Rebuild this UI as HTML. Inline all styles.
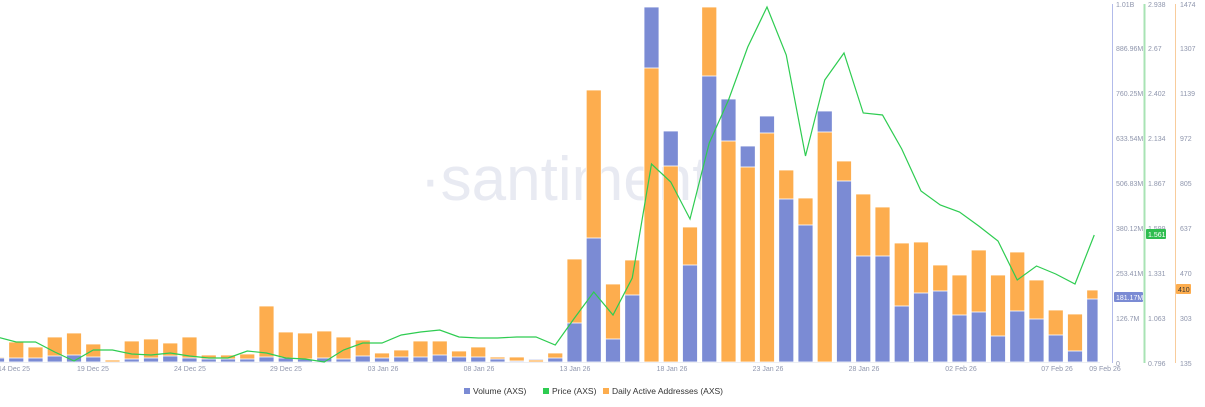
<!DOCTYPE html>
<html><head><meta charset="utf-8"><style>
html,body{margin:0;padding:0;background:#fff;width:1205px;height:407px;overflow:hidden}
svg{display:block;font-family:"Liberation Sans",sans-serif}
</style></head><body>
<svg id="c" width="1205" height="407" viewBox="0 0 1205 407">
<text x="420" y="200" font-size="62" fill="#e8eaf2" font-family="Liberation Sans,sans-serif">·santiment</text>
<g id="bars"></g>
<line x1="0" y1="362.5" x2="1100" y2="362.5" stroke="#eceef3" stroke-width="1"/>
<polyline id="price" fill="none" stroke="#2ecc51" stroke-width="1.2"/>
<line x1="1112.5" y1="4" x2="1112.5" y2="363" stroke="#b2bbea" stroke-width="1"/>
<line x1="1144.5" y1="4" x2="1144.5" y2="363" stroke="#a8e3b4" stroke-width="2"/>
<line x1="1175.5" y1="4" x2="1175.5" y2="363" stroke="#f8cc9c" stroke-width="1"/>
<g font-size="7" fill="#8f96ad">
<text x="1116" y="7">1.01B</text><text x="1148" y="7">2.938</text><text x="1180" y="7">1474</text>
<text x="1116" y="51">886.96M</text><text x="1148" y="51">2.67</text><text x="1180" y="51">1307</text>
<text x="1116" y="96">760.25M</text><text x="1148" y="96">2.402</text><text x="1180" y="96">1139</text>
<text x="1116" y="141">633.54M</text><text x="1148" y="141">2.134</text><text x="1180" y="141">972</text>
<text x="1116" y="186">506.83M</text><text x="1148" y="186">1.867</text><text x="1180" y="186">805</text>
<text x="1116" y="231">380.12M</text><text x="1148" y="231">1.599</text><text x="1180" y="231">637</text>
<text x="1116" y="276">253.41M</text><text x="1148" y="276">1.331</text><text x="1180" y="276">470</text>
<text x="1116" y="321">126.7M</text><text x="1148" y="321">1.063</text><text x="1180" y="321">303</text>
<text x="1116" y="366">0</text><text x="1148" y="366">0.796</text><text x="1180" y="366">135</text>
</g>
<rect x="1146" y="229" width="20" height="10" rx="1" fill="#2ebd4f"/>
<text x="1148" y="237" font-size="7" fill="#fff">1.561</text>
<rect x="1114" y="292" width="29" height="10" rx="1" fill="#7b8bd4"/>
<text x="1116" y="300" font-size="7" fill="#fff">181.17M</text>
<rect x="1176" y="284" width="15" height="10" rx="1" fill="#fdad4e"/>
<text x="1178" y="292" font-size="7" fill="#333">410</text>
<g font-size="7" fill="#8f96ad" text-anchor="middle">
<text x="14" y="371">14 Dec 25</text>
<text x="93" y="371">19 Dec 25</text>
<text x="190" y="371">24 Dec 25</text>
<text x="286" y="371">29 Dec 25</text>
<text x="383" y="371">03 Jan 26</text>
<text x="479" y="371">08 Jan 26</text>
<text x="575" y="371">13 Jan 26</text>
<text x="672" y="371">18 Jan 26</text>
<text x="768" y="371">23 Jan 26</text>
<text x="864" y="371">28 Jan 26</text>
<text x="961" y="371">02 Feb 26</text>
<text x="1057" y="371">07 Feb 26</text>
<text x="1105" y="371">09 Feb 26</text>
</g>
<g font-size="8.5" fill="#333">
<rect x="464" y="388" width="6" height="6" fill="#7b8bd4"/><text x="473" y="394">Volume (AXS)</text>
<rect x="543" y="388" width="6" height="6" fill="#2ecc51"/><text x="552" y="394">Price (AXS)</text>
<rect x="603" y="388" width="6" height="6" fill="#fdad4e"/><text x="612" y="394">Daily Active Addresses (AXS)</text>
</g>
</svg>
<script>
var d=[[357,358],[342,358],[347,358],[337,356],[333,355],[344,357],[360,362],[341,359],[339,358],[343,356],[337,358],[355,359],[355,359],[354,359],[306,357],[332,358],[333,359],[331,358],[337,359],[340,356],[353,358],[350,357],[341,357],[341,355],[351,357],[347,357],[357,359],[357,361],[360,359],[353,358],[259,323],[90,238],[284,339],[260,295],[68,7],[166,131],[227,265],[7,76],[141,99],[167,146],[133,116],[170,199],[198,225],[132,111],[161,181],[194,256],[207,256],[243,306],[242,293],[265,291],[275,315],[250,312],[275,336],[252,311],[280,319],[310,335],[314,351],[290,299]];
var p=[337,342,342,352,361,350,350,354,355,353,356,358,358,351,353,358,359,362,350,343,343,335,332,330,337,338,338,337,337,345,318,292,315,278,164,182,219,143,100,47,7,55,156,80,53,113,115,149,191,205,212,226,241,280,266,274,284,235];
var ns="http://www.w3.org/2000/svg",g=document.getElementById('bars');
function r(x,y,c){var e=document.createElementNS(ns,'rect');var w=15;var xx=x-7.5;if(xx+w>1098)w=1098-xx;e.setAttribute('x',xx);e.setAttribute('y',y);e.setAttribute('width',w);e.setAttribute('height',Math.max(0,362-y));e.setAttribute('fill',c);e.setAttribute('stroke','#fff');e.setAttribute('stroke-width','0.8');g.appendChild(e);}
var pts=[];
for(var i=0;i<d.length;i++){var cx=-3+19.25*i;var o=d[i][0],b=d[i][1];
if(o<=b){r(cx,o,'#fdad4e');r(cx,b,'#7b8bd4');}else{r(cx,b,'#7b8bd4');r(cx,o,'#fdad4e');}
pts.push(cx+','+p[i]);}
document.getElementById('price').setAttribute('points',pts.join(' '));
</script>
</body></html>
